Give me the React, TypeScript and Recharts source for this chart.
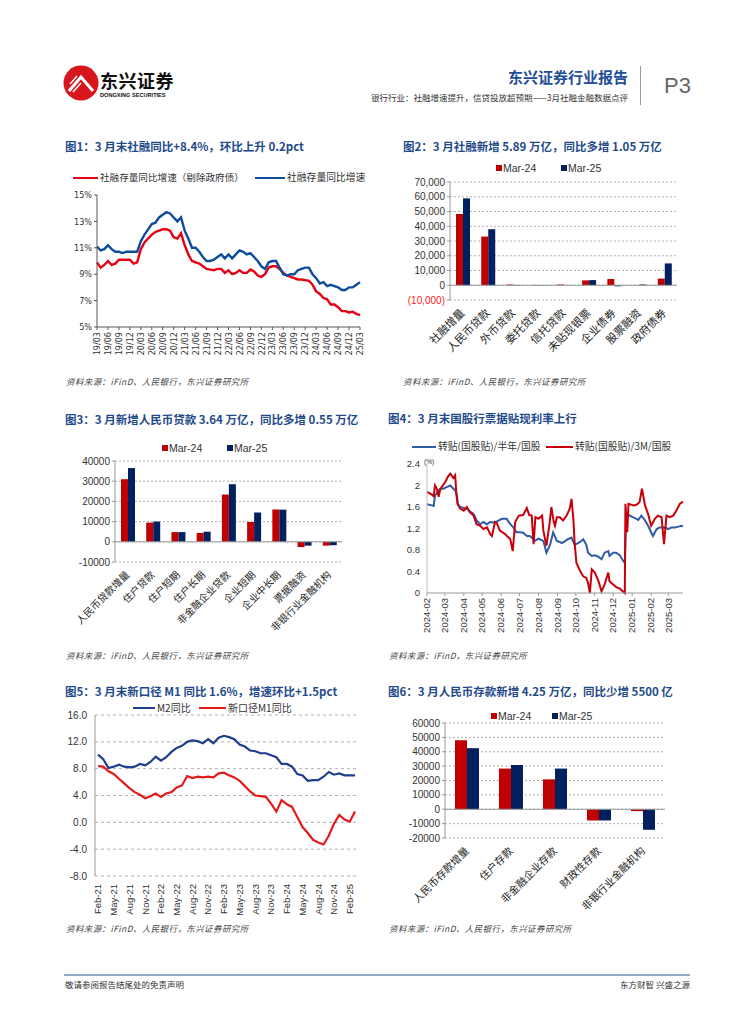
import React from "react";
import {
  LineChart, Line, BarChart, Bar, XAxis, YAxis, CartesianGrid, ReferenceLine,
} from "recharts";

const CJK = '"Noto Sans CJK SC", "Noto Sans", sans-serif';
const SANS = '"Liberation Sans", Arial, sans-serif';
const NARROW = '"Liberation Sans Narrow", "DejaVu Sans Condensed", "Liberation Sans", sans-serif';
const TITLE = "#1f4a8a";
const RED = "#c00000";
const NAVY = "#002060";

// 图1 社融存量同比（月度 19/03 - 25/03）
const sfMonths = Array.from({ length: 73 }, (_, i) => {
  const t = 2019 * 12 + 2 + i;
  const yy = Math.floor(t / 12) % 100;
  const mm = (t % 12) + 1;
  return `${String(yy).padStart(2, "0")}/${String(mm).padStart(2, "0")}`;
});
const sfStockExGov = [
  9.9, 9.5, 9.7, 10.0, 9.7, 9.8, 10.1, 10.1, 10.1, 10.1, 9.8, 9.9,
  10.9, 11.4, 11.7, 12.0, 12.2, 12.3, 12.4, 12.4, 12.3, 11.8, 11.7, 12.1,
  11.2, 10.5, 10.0, 9.9, 9.8, 9.6, 9.4, 9.35, 9.3, 9.4, 9.4, 9.1,
  9.3, 9.0, 9.1, 9.3, 9.1, 9.1, 9.35, 9.2, 8.9, 8.8, 9.0, 9.5,
  9.6, 9.6, 9.4, 9.1, 8.9, 8.8, 8.7, 8.6, 8.6, 8.55, 8.5, 8.2,
  7.7, 7.5, 7.2, 7.1, 6.7, 6.7, 6.5, 6.2, 6.2, 6.1, 6.15, 6.0, 5.9,
];
const sfStock = [
  11.1, 10.8, 10.9, 11.2, 10.9, 10.7, 10.7, 10.6, 10.7, 10.7, 10.7, 10.7,
  11.5, 12.0, 12.4, 12.8, 12.9, 13.3, 13.5, 13.7, 13.6, 13.3, 13.0, 13.3,
  12.3, 11.7, 11.0, 11.0, 10.7, 10.3, 10.0, 10.0, 10.1, 10.3, 10.5, 10.2,
  10.5, 10.2, 10.5, 10.8, 10.7, 10.5, 10.6, 10.3, 10.0, 9.6, 9.4, 9.9,
  10.0, 10.0, 9.5, 9.0, 8.9, 9.0, 9.0, 9.3, 9.4, 9.5, 9.5, 9.0,
  8.7, 8.3, 8.4, 8.1, 8.2, 8.1, 8.0, 7.8, 7.8, 8.0, 8.0, 8.2, 8.4,
];

// 图2 社融新增结构
const sfCats = ["社融增量", "人民币贷款", "外币贷款", "委托贷款", "信托贷款", "未贴现银票", "企业债券", "股票融资", "政府债券"];
const sfMar24 = [48300, 33000, 500, -300, 500, 3300, 4200, 100, 4500];
const sfMar25 = [58900, 38000, -300, -200, 100, 3500, -700, 500, 14800];

// 图3 新增人民币贷款
const loanCats = ["人民币贷款增量", "住户贷款", "住户短期", "住户长期", "非金融企业贷款", "企业短期", "企业中长期", "票据融资", "非银行业金融机构"];
const loanMar24 = [31000, 9500, 4800, 4400, 23400, 9800, 16000, -2600, -1900];
const loanMar25 = [36500, 10000, 4800, 5000, 28500, 14500, 15900, -1900, -1700];

// 图4 票据转贴利率（距 2024-02-01 的天数, %）
const billMonths = ["2024-02", "2024-03", "2024-04", "2024-05", "2024-06", "2024-07", "2024-08", "2024-09", "2024-10", "2024-11", "2024-12", "2025-01", "2025-02", "2025-03"];
const billHalfYear: [number, number][] = [
  [0, 1.65], [8, 1.63], [11, 1.62], [13, 1.82], [16, 1.85], [19, 1.91], [22, 1.94], [27, 1.94],
  [32, 1.97], [38, 2.0], [43, 1.94], [46, 1.91], [49, 1.82], [50, 1.66], [54, 1.6], [60, 1.58],
  [65, 1.57], [70, 1.52], [76, 1.47], [81, 1.35], [87, 1.28], [92, 1.32], [98, 1.28], [103, 1.32],
  [108, 1.31], [114, 1.33], [122, 1.38], [130, 1.38], [136, 1.28], [141, 1.22], [146, 1.13], [152, 1.13],
  [157, 1.12], [163, 1.06], [168, 1.06], [172, 1.02], [176, 0.97], [182, 1.01], [190, 0.97], [195, 0.75],
  [201, 0.9], [206, 1.13], [212, 0.97], [217, 0.95], [220, 0.93], [225, 0.96], [230, 1.0], [236, 1.03],
  [241, 0.9], [245, 0.92], [250, 0.95], [255, 1.0], [260, 0.9], [263, 0.75], [269, 0.69], [274, 0.7],
  [279, 0.68], [285, 0.63], [290, 0.75], [296, 0.78], [298, 0.69], [304, 0.75], [309, 0.75], [315, 0.7],
  [320, 0.6], [323, 0.56], [325, 1.3], [328, 1.47], [331, 1.44], [336, 1.41], [342, 1.38], [345, 1.36],
  [350, 1.44], [356, 1.35], [361, 1.25], [366, 1.13], [369, 1.06], [375, 1.19], [380, 1.22], [388, 1.22],
  [394, 1.19], [399, 1.22], [405, 1.22], [412, 1.24], [415, 1.25], [418, 1.24],
];
const bill3M: [number, number][] = [
  [0, 1.88], [8, 1.83], [11, 1.8], [13, 2.0], [16, 1.94], [19, 1.79], [22, 1.94], [24, 1.97],
  [30, 2.07], [35, 2.18], [38, 2.22], [43, 2.14], [46, 2.19], [48, 1.82], [50, 1.66], [54, 1.57],
  [60, 1.53], [65, 1.6], [70, 1.5], [76, 1.44], [81, 1.28], [87, 1.25], [92, 1.19], [98, 1.22],
  [103, 1.1], [106, 1.06], [111, 1.32], [114, 1.3], [119, 1.16], [127, 1.1], [136, 1.0], [140, 0.78],
  [144, 1.32], [150, 1.44], [157, 1.45], [163, 1.58], [167, 1.45], [171, 1.44], [174, 0.91], [177, 1.41],
  [182, 1.38], [188, 1.44], [190, 1.16], [195, 0.88], [200, 1.28], [203, 1.6], [207, 1.32], [209, 1.25],
  [212, 1.41], [217, 1.41], [222, 1.35], [228, 1.44], [233, 1.57], [236, 1.75], [239, 1.38], [241, 0.94],
  [244, 0.56], [250, 0.41], [255, 0.31], [260, 0.28], [263, 0.19], [266, 0.0], [269, 0.44], [274, 0.38],
  [280, 0.22], [285, 0.03], [290, 0.16], [296, 0.38], [298, 0.22], [304, 0.16], [309, 0.11], [315, 0.08],
  [320, 0.03], [323, 0.0], [324, 1.66], [327, 1.13], [329, 1.66], [337, 1.63], [342, 1.64], [347, 1.69],
  [351, 1.94], [356, 1.63], [361, 1.47], [366, 1.25], [372, 1.38], [377, 1.44], [383, 1.41], [387, 0.91],
  [391, 1.44], [396, 1.41], [402, 1.44], [407, 1.53], [413, 1.66], [418, 1.7],
];

// 图5 M2 与新口径 M1（Feb-21 - Mar-25）
const monthNames = ["Jan", "Feb", "Mar", "Apr", "May", "Jun", "Jul", "Aug", "Sep", "Oct", "Nov", "Dec"];
const mMonths = Array.from({ length: 50 }, (_, i) => {
  const t = 2021 * 12 + 1 + i;
  return `${monthNames[t % 12]}-${Math.floor(t / 12) % 100}`;
});
const m2Yoy = [
  10.1, 9.4, 8.1, 8.3, 8.6, 8.3, 8.2, 8.3, 8.7, 8.5, 9.0, 9.8, 9.2, 9.7, 10.5, 11.1, 11.4,
  12.0, 12.2, 12.1, 11.8, 12.4, 11.8, 12.6, 12.9, 12.7, 12.4, 11.6, 11.3, 10.7, 10.6, 10.3,
  10.3, 10.0, 9.7, 8.7, 8.7, 8.3, 7.2, 7.0, 6.2, 6.3, 6.3, 6.8, 7.5, 7.1, 7.3, 7.0, 7.0, 7.0,
];
const m1NewYoy = [
  8.4, 8.3, 7.6, 7.2, 6.5, 5.8, 5.1, 4.5, 4.1, 3.6, 3.9, 4.3, 3.8, 4.3, 4.5, 5.2, 5.5,
  6.9, 6.6, 6.8, 6.7, 6.8, 6.7, 7.3, 7.4, 7.0, 6.7, 6.2, 5.4, 4.6, 4.0, 3.9,
  3.8, 2.8, 1.6, 3.3, 2.7, 2.3, 0.8, -0.7, -1.6, -2.6, -3.0, -3.3, -2.0, -0.2, 1.1, 0.4, 0.1, 1.6,
];

// 图6 人民币存款新增
const depCats = ["人民币存款增量", "住户存款", "非金融企业存款", "财政性存款", "非银行业金融机构"];
const depMar24 = [48000, 28300, 20800, -7800, -1300];
const depMar25 = [42500, 30800, 28300, -7800, -14300];

const T = ({ x, y, size, color = "#333", bold, italic, anchor, family = CJK, spacing, children }: any) => (
  <div
    style={{
      position: "absolute",
      left: anchor === "end" ? undefined : x,
      right: anchor === "end" ? 755 - x : undefined,
      top: y,
      transform: "translateY(-50%)",
      fontSize: size,
      lineHeight: 1,
      color,
      fontWeight: bold ? 700 : 400,
      fontStyle: italic ? "italic" : "normal",
      fontFamily: family,
      letterSpacing: spacing,
      whiteSpace: "nowrap",
    }}
  >
    {children}
  </div>
);

const Sq = ({ x, y, color }: any) => (
  <div style={{ position: "absolute", left: x, top: y - 3, width: 6, height: 6, background: color }} />
);
const Seg = ({ x, y, w, color }: any) => (
  <div style={{ position: "absolute", left: x, top: y - 1.25, width: w, height: 2.5, background: color }} />
);
const Box = ({ x, y, children }: any) => (
  <div style={{ position: "absolute", left: x, top: y }}>{children}</div>
);

const VTick = (props: any) => {
  const { x, y, payload, size = 9, family = SANS, label } = props;
  const text = label ? label(payload.value) : payload.value;
  return (
    <text x={x} y={y} transform={`rotate(-90 ${x} ${y})`} textAnchor="end" dy="0.35em"
      fontSize={size} fill="#333" fontFamily={family}>
      {text}
    </text>
  );
};

const DTick = (props: any) => {
  const { x, y, payload, size = 10 } = props;
  return (
    <text x={x} y={y + 3} transform={`rotate(-45 ${x} ${y + 3})`} textAnchor="end" dy="0.35em"
      fontSize={size} fill="#222" fontFamily={CJK}>
      {payload.value}
    </text>
  );
};

const YTick = (props: any) => {
  const { x, y, payload, size = 10, fmt, family = SANS } = props;
  const v = payload.value;
  const red = fmt === "paren" && v < 0;
  let s = String(v);
  if (fmt === "paren") s = v < 0 ? `(${Math.abs(v).toLocaleString("en-US")})` : v.toLocaleString("en-US");
  if (fmt === "pct") s = `${v}%`;
  if (fmt === "fixed") s = v.toFixed(1);
  return (
    <text x={x} y={y} dy="0.35em" textAnchor="end" fontSize={size} fill={red ? "#ff2020" : "#333"} fontFamily={family}>
      {s}
    </text>
  );
};

function Chart1() {
  const data = sfMonths.map((m, i) => ({ m, ex: sfStockExGov[i], all: sfStock[i] }));
  return (
    <LineChart width={315} height={185} data={data} margin={{ top: 10, right: 10, bottom: 0, left: 0 }}>
      <XAxis dataKey="m" interval={2} height={43} stroke="#555" tickSize={3}
        tick={<VTick size={9} family={NARROW} />} />
      <YAxis domain={[5, 15]} ticks={[5, 7, 9, 11, 13, 15]} interval={0} width={42} stroke="#555" tickSize={3}
        tick={<YTick size={9} fmt="pct" family={NARROW} />} />
      <Line dataKey="ex" stroke="#e60012" strokeWidth={2.4} dot={false} isAnimationActive={false} />
      <Line dataKey="all" stroke="#0d4c9a" strokeWidth={2.4} dot={false} isAnimationActive={false} />
    </LineChart>
  );
}

function BarPanel({ cats, a, b, width, height, yw, domain, ticks, barSize, fmt, labelSize, xh }: any) {
  const data = cats.map((c: string, i: number) => ({ c, a: a[i], b: b[i] }));
  return (
    <BarChart width={width} height={height} data={data} barGap={0} margin={{ top: 10, right: 8, bottom: 0, left: 0 }}>
      <CartesianGrid vertical={false} stroke="#b0b0b0" strokeDasharray="2 2" />
      <XAxis dataKey="c" interval={0} height={xh} axisLine={false} tickLine={false}
        tick={<DTick size={labelSize} />} />
      <YAxis domain={domain} ticks={ticks} interval={0} width={yw} stroke="#999" tickSize={3}
        tick={<YTick size={10} fmt={fmt} />} />
      <ReferenceLine y={0} stroke="#999" />
      <Bar dataKey="a" fill={RED} barSize={barSize} isAnimationActive={false} />
      <Bar dataKey="b" fill={NAVY} barSize={barSize} isAnimationActive={false} />
    </BarChart>
  );
}

const billTicks = billMonths.map((s) => {
  const [y, m] = s.split("-").map(Number);
  return (Date.UTC(y, m - 1, 1) - Date.UTC(2024, 1, 1)) / 86400000;
});

function Chart4() {
  const half = billHalfYear.map(([d, v]) => ({ d, v }));
  const m3 = bill3M.map(([d, v]) => ({ d, v }));
  const label = (v: number) => billMonths[billTicks.indexOf(v)] ?? "";
  return (
    <LineChart width={297} height={184} margin={{ top: 10, right: 5, bottom: 0, left: 0 }}>
      <XAxis dataKey="d" type="number" domain={[0, 418]} ticks={billTicks} interval={0} height={45}
        stroke="#999" tickSize={3} tick={<VTick size={9.5} label={label} />} />
      <YAxis domain={[0, 2.4]} ticks={[0, 0.4, 0.8, 1.2, 1.6, 2, 2.4]} interval={0} width={36} stroke="#bbb"
        tickLine={false} tickMargin={1} tick={<YTick size={9.5} />} />
      <Line data={half} dataKey="v" stroke="#2f5ba8" strokeWidth={2} dot={false} isAnimationActive={false} />
      <Line data={m3} dataKey="v" stroke="#c8000a" strokeWidth={2} dot={false} isAnimationActive={false} />
    </LineChart>
  );
}

function Chart5() {
  const data = mMonths.map((m, i) => ({ m, m2: m2Yoy[i], m1: m1NewYoy[i] }));
  return (
    <LineChart width={310} height={211} data={data} margin={{ top: 10, right: 8, bottom: 0, left: 0 }}>
      <CartesianGrid vertical={false} stroke="#b0b0b0" strokeDasharray="3 3" />
      <XAxis dataKey="m" interval={2} height={40} axisLine={false} tickLine={false}
        padding={{ left: 3, right: 2 }} tick={<VTick size={9.5} />} />
      <YAxis domain={[-8, 16]} ticks={[-8, -4, 0, 4, 8, 12, 16]} interval={0} width={40} stroke="#999"
        tickLine={false} tick={<YTick size={10} fmt="fixed" />} />
      <Line dataKey="m2" stroke="#1f3f8c" strokeWidth={2.2} dot={false} isAnimationActive={false} />
      <Line dataKey="m1" stroke="#e31b1b" strokeWidth={2.2} dot={false} isAnimationActive={false} />
    </LineChart>
  );
}

const SRC = "资料来源：iFinD、人民银行，东兴证券研究所";

export default function App() {
  return (
    <div style={{ position: "absolute", left: 0, top: 0, width: 755, height: 1024, background: "#fff", overflow: "hidden", fontFamily: CJK }}>
      {/* 页眉 */}
      <svg width={38} height={38} viewBox="0 0 38 38" style={{ position: "absolute", left: 62, top: 64 }}>
        <circle cx={19} cy={19} r={17.5} fill="#d7161e" />
        <path d="M7 27 L19 13 L31 27" stroke="#fff" strokeWidth={3} fill="none" />
        <path d="M8 20 L15 12 M9 24 L17 15 M11 28 L19 19" stroke="#fff" strokeWidth={1.4} />
      </svg>
      <T x={100} y={80} size={18} color="#111" bold spacing={0.5}>东兴证券</T>
      <T x={100} y={96} size={5.6} color="#111" bold family={SANS}>DONGXING SECURITIES</T>
      <T x={628} y={76} size={15} color="#1f4e9a" bold anchor="end">东兴证券行业报告</T>
      <T x={628} y={97} size={8.5} color="#333" anchor="end">银行行业：社融增速提升，信贷投放超预期——3月社融金融数据点评</T>
      <div style={{ position: "absolute", left: 640, top: 66, width: 1, height: 39, background: "#999" }} />
      <T x={664} y={86} size={22} color="#666" family={SANS}>P3</T>

      {/* 图1 */}
      <T x={65} y={147} size={11.5} color={TITLE} bold>图1：3 月末社融同比+8.4%，环比上升 0.2pct</T>
      <Seg x={73} y={178} w={25} color="#e60012" />
      <T x={100} y={178} size={9.6}>社融存量同比增速（剔除政府债）</T>
      <Seg x={255} y={178} w={30} color="#0d4c9a" />
      <T x={287} y={178} size={9.8}>社融存量同比增速</T>
      <Box x={55} y={185}><Chart1 /></Box>
      <T x={66} y={381} size={8.5} color="#444" italic spacing={0.4}>{SRC}</T>

      {/* 图2 */}
      <T x={403} y={147} size={11.5} color={TITLE} bold>图2：3 月社融新增 5.89 万亿，同比多增 1.05 万亿</T>
      <Sq x={496} y={168} color={RED} />
      <T x={503} y={168} size={10.5} family={SANS}>Mar-24</T>
      <Sq x={561} y={168} color={NAVY} />
      <T x={568} y={168} size={10.5} family={SANS}>Mar-25</T>
      <Box x={390} y={172}>
        <BarPanel cats={sfCats} a={sfMar24} b={sfMar25} width={295} height={188} yw={60} xh={60}
          domain={[-10000, 70000]} ticks={[-10000, 0, 10000, 20000, 30000, 40000, 50000, 60000, 70000]}
          barSize={7} fmt="paren" labelSize={11} />
      </Box>
      <T x={403} y={381} size={8.5} color="#444" italic spacing={0.4}>{SRC}</T>

      {/* 图3 */}
      <T x={65} y={420} size={11.5} color={TITLE} bold>图3：3 月新增人民币贷款 3.64 万亿，同比多增 0.55 万亿</T>
      <Sq x={162} y={448} color={RED} />
      <T x={169} y={448} size={10.5} family={SANS}>Mar-24</T>
      <Sq x={227} y={448} color={NAVY} />
      <T x={234} y={448} size={10.5} family={SANS}>Mar-25</T>
      <Box x={55} y={451}>
        <BarPanel cats={loanCats} a={loanMar24} b={loanMar25} width={295} height={196} yw={60} xh={85}
          domain={[-10000, 40000]} ticks={[-10000, 0, 10000, 20000, 30000, 40000]}
          barSize={7} labelSize={10} />
      </Box>
      <T x={66} y={655} size={8.5} color="#444" italic spacing={0.4}>{SRC}</T>

      {/* 图4 */}
      <T x={388} y={419} size={11.5} color={TITLE} bold>图4：3 月末国股行票据贴现利率上行</T>
      <Seg x={412} y={447} w={24} color="#2f5ba8" />
      <T x={438} y={447} size={9.8}>转贴(国股贴)/半年/国股</T>
      <Seg x={546} y={447} w={27} color="#c8000a" />
      <T x={575} y={447} size={9.8}>转贴(国股贴)/3M/国股</T>
      <Box x={391} y={454}><Chart4 /></Box>
      <T x={424} y={462} size={6.5} color="#333" family={SANS}>(%)</T>
      <T x={389} y={655} size={8.5} color="#444" italic spacing={0.4}>资料来源：iFinD，东兴证券研究所</T>

      {/* 图5 */}
      <T x={65} y={692} size={11.5} color={TITLE} bold>图5：3 月末新口径 M1 同比 1.6%，增速环比+1.5pct</T>
      <Seg x={133} y={708} w={22} color="#1f3f8c" />
      <T x={157} y={708} size={10}>M2同比</T>
      <Seg x={199} y={708} w={27} color="#e31b1b" />
      <T x={228} y={708} size={10}>新口径M1同比</T>
      <Box x={55} y={705}><Chart5 /></Box>
      <T x={66} y={928} size={8.5} color="#444" italic spacing={0.4}>{SRC}</T>

      {/* 图6 */}
      <T x={388} y={692} size={11.5} color={TITLE} bold>图6：3 月人民币存款新增 4.25 万亿，同比少增 5500 亿</T>
      <Sq x={491} y={716} color={RED} />
      <T x={498} y={716} size={10.5} family={SANS}>Mar-24</T>
      <Sq x={552} y={716} color={NAVY} />
      <T x={559} y={716} size={10.5} family={SANS}>Mar-25</T>
      <Box x={390} y={713}>
        <BarPanel cats={depCats} a={depMar24} b={depMar25} width={283} height={210} yw={55} xh={85}
          domain={[-20000, 60000]} ticks={[-20000, -10000, 0, 10000, 20000, 30000, 40000, 50000, 60000]}
          barSize={12} labelSize={10.5} />
      </Box>
      <T x={389} y={928} size={8.5} color="#444" italic spacing={0.4}>{SRC}</T>

      {/* 页脚 */}
      <div style={{ position: "absolute", left: 64, top: 974, width: 626, height: 2, background: "#8fa9c8" }} />
      <T x={65} y={984} size={8.5} color="#333">敬请参阅报告结尾处的免责声明</T>
      <T x={690} y={984} size={8.5} color="#333" anchor="end">东方财智  兴盛之源</T>
    </div>
  );
}
